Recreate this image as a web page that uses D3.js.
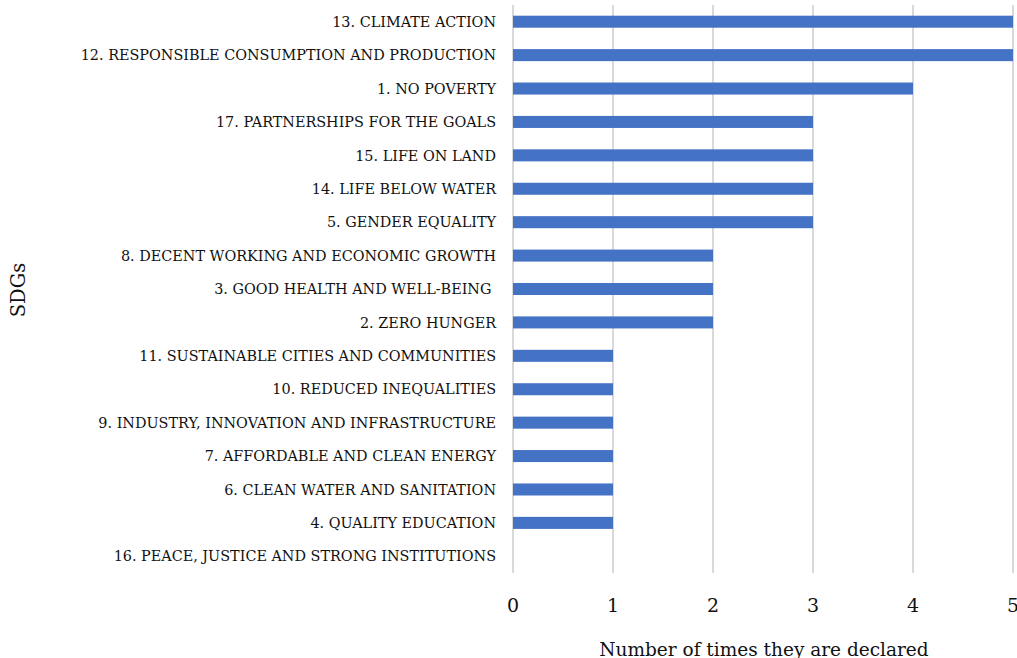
<!DOCTYPE html>
<html lang="en">
<head>
    <meta charset="UTF-8">
    <script src="https://d3js.org/d3.v7.min.js"></script>
    <style>
    html, body { margin: 0; width: 100%; height: 100%; background: #fff; }
    svg { display: block; }
    text { font-family: "DejaVu Serif", "Liberation Serif", serif; fill: #111; }
    </style>
    <title>SDGs</title>
</head>
<body>
    <div id="chart"></div>
    <script type="text/javascript">

    // categories top to bottom
    var sdgs = [
        "13. CLIMATE ACTION",
        "12. RESPONSIBLE CONSUMPTION AND PRODUCTION",
        "1. NO POVERTY",
        "17. PARTNERSHIPS FOR THE GOALS",
        "15. LIFE ON LAND",
        "14. LIFE BELOW WATER",
        "5. GENDER EQUALITY",
        "8. DECENT WORKING AND ECONOMIC GROWTH",
        "3. GOOD HEALTH AND WELL-BEING ",
        "2. ZERO HUNGER",
        "11. SUSTAINABLE CITIES AND COMMUNITIES",
        "10. REDUCED INEQUALITIES",
        "9. INDUSTRY, INNOVATION AND INFRASTRUCTURE",
        "7. AFFORDABLE AND CLEAN ENERGY",
        "6. CLEAN WATER AND SANITATION",
        "4. QUALITY EDUCATION",
        "16. PEACE, JUSTICE AND STRONG INSTITUTIONS"
    ];
    var counts = [5, 5, 4, 3, 3, 3, 3, 2, 2, 2, 1, 1, 1, 1, 1, 1, 0];
    var xTicks = [0, 1, 2, 3, 4, 5];

    var width = 1017, height = 658;
    var plotLeft = 513, plotRight = 1013, plotTop = 5, plotBottom = 573;

    var svg = d3.select("#chart").append("svg")
        .attr("width", width)
        .attr("height", height);

    var x = d3.scaleLinear().domain([0, 5]).range([plotLeft, plotRight]);
    var y = d3.scaleBand().domain(sdgs).range([plotTop, plotBottom]).paddingInner(0.64).paddingOuter(0.32);

    // gridlines
    svg.append("g")
        .selectAll("line")
        .data(xTicks)
        .enter()
        .append("line")
        .attr("x1", function (d) { return x(d); })
        .attr("x2", function (d) { return x(d); })
        .attr("y1", plotTop)
        .attr("y2", plotBottom)
        .attr("stroke", "#d9d9d9")
        .attr("stroke-width", 2);

    // bars
    svg.append("g")
        .selectAll("rect")
        .data(sdgs)
        .enter()
        .append("rect")
        .attr("x", x(0))
        .attr("y", function (d) { return y(d); })
        .attr("width", function (d, i) { return x(counts[i]) - x(0); })
        .attr("height", y.bandwidth())
        .attr("fill", "#4472c4");

    // category labels
    svg.append("g")
        .selectAll("text")
        .data(sdgs)
        .enter()
        .append("text")
        .attr("x", plotLeft - 17)
        .attr("y", function (d) { return y(d) + y.bandwidth() / 2; })
        .attr("dy", "0.36em")
        .attr("text-anchor", "end")
        .style("font-size", "14.4px")
        .style("white-space", "pre")
        .text(function (d) { return d; });

    // x tick labels
    svg.append("g")
        .selectAll("text")
        .data(xTicks)
        .enter()
        .append("text")
        .attr("x", function (d) { return x(d); })
        .attr("y", 612)
        .attr("text-anchor", "middle")
        .style("font-size", "19px")
        .text(function (d) { return d; });

    // axis titles
    svg.append("text")
        .attr("x", 764)
        .attr("y", 656)
        .attr("text-anchor", "middle")
        .style("font-size", "18.5px")
        .text("Number of times they are declared");

    svg.append("text")
        .attr("transform", "translate(25," + 290 + ") rotate(-90)")
        .attr("text-anchor", "middle")
        .style("font-size", "19.5px")
        .text("SDGs");

    </script>
</body>
</html>
